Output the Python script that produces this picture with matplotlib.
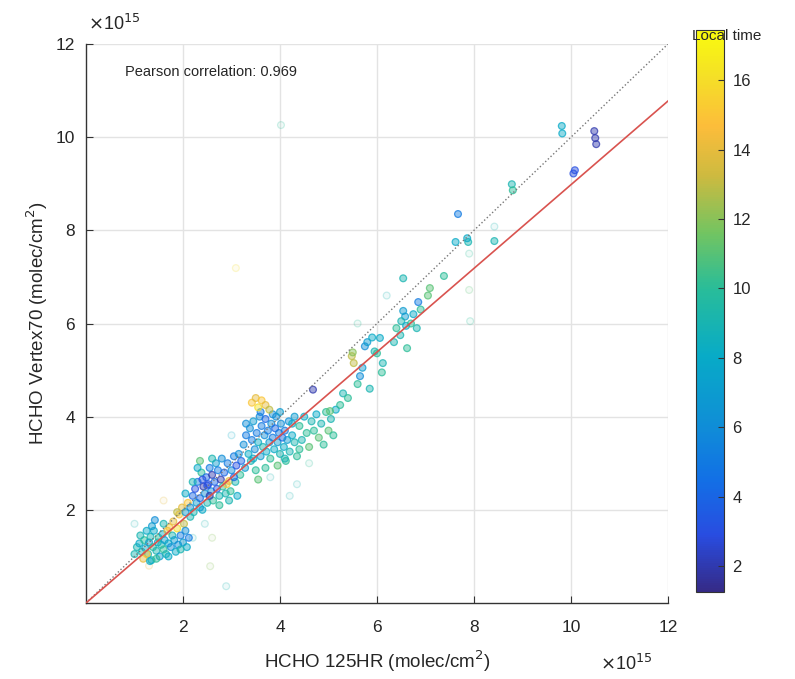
import matplotlib
matplotlib.use("Agg")
import matplotlib.pyplot as plt
import numpy as np
from matplotlib.colors import LinearSegmentedColormap, Normalize

plt.rcParams['font.family'] = ['Liberation Sans', 'DejaVu Sans']

# HCHO columns in units of 1e15 molec/cm2, local time in hours
x_main = [1.05, 1.10, 1.15, 1.20, 1.22, 1.28, 1.30, 1.33, 1.35, 1.38, 1.40, 1.42, 1.45, 1.48, 1.50,
          1.52, 1.55, 1.58, 1.60, 1.62, 1.65, 1.68, 1.70, 1.72, 1.75, 1.78, 1.80, 1.82, 1.85, 1.88,
          1.90, 1.92, 1.95, 1.98, 2.00, 2.02, 2.05, 2.08, 2.10, 2.12, 2.15, 1.18, 1.25, 1.32,
          1.12, 1.25, 1.45, 1.60, 1.70, 1.95, 2.05, 1.88, 1.00, 1.36,
          2.15, 2.20, 2.22, 2.25, 2.28, 2.30, 2.35, 2.38, 2.40, 2.42, 2.45, 2.48, 2.50, 2.52, 2.55,
          2.58, 2.60, 2.62, 2.65, 2.68, 2.70, 2.72, 2.75, 2.78, 2.80, 2.82, 2.85, 2.88, 2.90, 2.95,
          2.92, 2.98, 3.00, 3.05, 3.08, 3.10, 3.12, 3.15, 3.18, 3.20, 2.05, 2.35, 2.50,
          2.30, 2.60, 2.75, 2.95, 3.05, 2.40, 2.55, 2.20, 2.35,
          3.25, 3.28, 3.30, 3.35, 3.38, 3.40, 3.42, 3.45, 3.48, 3.50, 3.52, 3.55, 3.58, 3.60, 3.62,
          3.65, 3.68, 3.70, 3.72, 3.75, 3.78, 3.80, 3.82, 3.85, 3.88, 3.90, 3.92, 3.95, 3.98, 4.00,
          4.02, 4.05, 4.08, 4.10, 4.12, 4.15, 4.18, 4.20, 4.25, 4.30, 4.35, 3.55, 3.70,
          3.30, 3.45, 3.60, 3.85, 4.00, 4.10, 4.25, 4.40, 3.95, 4.30,
          3.42, 3.50, 3.55, 3.62, 3.70, 3.78,
          4.40, 4.45, 4.50, 4.55, 4.60, 4.65, 4.70, 4.75, 4.80, 4.85, 4.90, 4.95, 5.00, 5.05, 5.10,
          5.15, 4.68,
          5.24, 5.03, 5.30, 5.40, 5.48, 5.50, 5.52, 5.65, 5.70, 5.75, 5.80, 5.95, 6.00, 6.06, 6.12,
          5.85, 5.60, 6.10, 5.90,
          6.54, 6.54, 6.58, 6.62, 6.48, 6.50, 6.40, 6.60, 6.85, 6.82, 6.70, 6.75, 6.90, 7.05, 7.09,
          7.38, 6.35,
          7.62, 7.88, 7.86, 7.67, 8.42, 8.78, 8.80, 9.81, 9.82, 10.08, 10.05, 10.48, 10.50, 10.52]
y_main = [1.20, 1.28, 1.10, 1.35, 1.18, 1.05, 1.30, 1.42, 0.92, 1.20, 1.55, 1.78, 1.12, 1.30, 1.40,
          1.00, 1.25, 1.48, 1.15, 1.35, 1.05, 1.55, 1.28, 1.62, 1.20, 1.45, 1.75, 1.35, 1.10, 1.60,
          1.25, 1.90, 1.45, 2.05, 1.30, 1.70, 1.55, 1.20, 2.15, 1.40, 1.85, 0.95, 1.05, 0.90,
          1.45, 1.55, 0.95, 1.70, 1.00, 1.15, 1.95, 1.95, 1.05, 1.65,
          2.05, 2.30, 1.95, 2.45, 2.15, 2.60, 2.25, 2.80, 2.00, 2.50, 2.35, 2.70, 2.15, 2.55, 2.90,
          2.40, 2.75, 2.20, 2.60, 3.00, 2.45, 2.85, 2.30, 2.65, 3.10, 2.50, 2.80, 2.35, 2.55, 2.62,
          3.00, 2.40, 2.85, 3.15, 2.60, 2.95, 2.30, 3.20, 2.75, 3.05, 2.35, 3.05, 2.52,
          2.90, 3.10, 2.10, 2.20, 2.70, 2.65, 2.30, 2.60, 2.05,
          3.40, 2.90, 3.60, 3.20, 3.75, 3.05, 3.50, 3.90, 3.30, 2.85, 3.65, 3.45, 4.00, 3.15, 3.80,
          3.35, 3.60, 3.95, 3.25, 3.70, 3.45, 3.10, 3.85, 3.55, 3.30, 3.75, 4.00, 3.45, 3.65, 3.20,
          3.85, 3.55, 3.35, 3.70, 3.05, 3.50, 3.90, 3.25, 3.60, 3.45, 3.15, 2.65, 2.90,
          3.85, 3.10, 4.10, 4.05, 4.10, 3.10, 3.85, 3.30, 2.95, 4.00,
          4.30, 4.40, 4.20, 4.35, 4.25, 4.15,
          3.80, 3.50, 4.00, 3.65, 3.35, 3.90, 3.70, 4.05, 3.55, 3.85, 3.40, 4.10, 3.70, 3.95, 3.60,
          4.15, 4.58,
          4.25, 4.12, 4.50, 4.40, 5.30, 5.38, 5.15, 4.87, 5.05, 5.51, 5.60, 5.40, 5.36, 5.69, 5.15,
          4.60, 4.70, 4.95, 5.70,
          6.97, 6.27, 6.15, 5.47, 5.75, 6.05, 5.90, 5.95, 6.46, 5.90, 6.00, 6.20, 6.30, 6.60, 6.76,
          7.02, 5.60,
          7.75, 7.75, 7.83, 8.35, 7.77, 8.99, 8.86, 10.24, 10.08, 9.29, 9.22, 10.13, 9.98, 9.85]
t_main = [9, 8, 9, 10, 8, 9, 7, 9, 9, 10, 8, 6, 9, 8, 10,
          7, 9, 8, 10, 7, 9, 14, 8, 15, 6, 9, 14, 7, 8, 16,
          6, 15, 5, 14, 7, 13, 6, 8, 15, 5, 9, 14, 15, 8,
          9, 8, 10, 9, 8, 9, 7, 13, 9, 7,
          6, 4, 9, 3, 7, 5, 4, 10, 8, 2, 6, 4, 9, 3, 5,
          6, 2, 10, 4, 7, 3, 5, 9, 2, 6, 10, 4, 9, 15, 14,
          5, 10, 6, 5, 9, 3, 8, 6, 10, 4, 8, 11, 3,
          8, 9, 10, 9, 4, 3, 2, 9, 7,
          6, 7, 5, 8, 6, 9, 5, 7, 6, 10, 5, 8, 6, 7, 5,
          9, 6, 4, 8, 5, 7, 10, 6, 5, 8, 4, 6, 7, 5, 9,
          6, 4, 8, 5, 10, 7, 6, 9, 8, 9, 10, 11, 10,
          6, 8, 5, 6, 7, 9, 8, 10, 11, 7,
          15, 14, 16, 15, 14, 13,
          10, 9, 8, 10, 11, 9, 10, 8, 11, 9, 10, 10, 11, 9, 10,
          8, 2,
          10, 11, 9, 10, 13, 12, 13, 6, 7, 6, 7, 9, 10, 8, 9,
          9, 10, 10, 8,
          9, 7, 7, 10, 9, 9, 10, 8, 5, 9, 10, 8, 10, 11, 11,
          10, 9,
          8, 9, 8, 5, 9, 9, 10, 8, 8, 3, 3, 2, 2, 2]

# barely visible points
x_faint = [3.09, 4.02, 2.89, 2.56, 4.20, 7.90, 7.92, 7.90, 8.42, 2.60, 4.35,
           1.00, 1.60, 2.20, 3.00, 3.80, 4.60, 5.60, 6.20, 1.30, 2.45]
y_faint = [7.19, 10.26, 0.36, 0.79, 2.30, 6.72, 6.05, 7.50, 8.08, 1.40, 2.55,
           1.70, 2.20, 1.40, 3.60, 2.70, 3.00, 6.00, 6.60, 0.80, 1.70]
t_faint = [16, 10, 9, 12, 9, 11, 10, 10, 9, 12, 9,
           9, 14, 9, 8, 9, 10, 10, 9, 14, 9]

pearson_r = 0.969
fit_slope = 0.898

parula = LinearSegmentedColormap.from_list('parula', [
    (0.000, (0.208, 0.166, 0.529)),
    (0.100, (0.160, 0.300, 0.880)),
    (0.200, (0.070, 0.440, 0.900)),
    (0.300, (0.060, 0.560, 0.840)),
    (0.420, (0.030, 0.670, 0.780)),
    (0.540, (0.160, 0.740, 0.600)),
    (0.640, (0.450, 0.770, 0.380)),
    (0.740, (0.800, 0.730, 0.250)),
    (0.830, (0.990, 0.740, 0.230)),
    (0.920, (0.960, 0.880, 0.150)),
    (1.000, (0.976, 0.983, 0.054)),
])
norm = Normalize(vmin=1.25, vmax=17.45)

fig = plt.figure(figsize=(7.95, 6.79), dpi=100)
ax = fig.add_axes([86 / 795, 1 - 603 / 679, 582 / 795, 559 / 679])

txt = '#262626'

def draw(xs, ys, ts, fa, ea):
    cols = parula(norm(np.array(ts)))
    fc = cols.copy()
    fc[:, 3] = fa
    ec = cols.copy()
    ec[:, 3] = ea
    ax.scatter(xs, ys, s=24, facecolors=fc, edgecolors=ec, linewidths=0.9, zorder=3)

draw(x_faint, y_faint, t_faint, 0.07, 0.22)
draw(x_main, y_main, t_main, 0.45, 0.75)

line = np.array([0, 12])
ax.plot(line, line, ':', color='#777777', lw=1.0, zorder=4)
ax.plot(line, fit_slope * line, '-', color='#d9534f', lw=1.2, zorder=4)

ax.set_xlim(0, 12)
ax.set_ylim(0, 12)
ax.set_xticks([2, 4, 6, 8, 10, 12])
ax.set_yticks([2, 4, 6, 8, 10, 12])
ax.grid(True, color='#e3e3e3', lw=1.0, zorder=0)
ax.set_axisbelow(True)
for s in ['top', 'right']:
    ax.spines[s].set_visible(False)
for s in ['left', 'bottom']:
    ax.spines[s].set_color('#333333')
    ax.spines[s].set_linewidth(1.0)
ax.tick_params(direction='in', length=5, labelsize=12.5, colors='#333333', labelcolor=txt)
ax.tick_params(axis='x', pad=12)
ax.tick_params(axis='y', pad=8)

ax.set_xlabel('HCHO 125HR (molec/cm$^2$)', fontsize=13.5, color=txt, labelpad=10)
ax.set_ylabel('HCHO Vertex70 (molec/cm$^2$)', fontsize=13.5, color=txt, labelpad=4)

fig.text(88 / 795, 1 - 30 / 679, r'$\times$10$^{15}$', fontsize=13, color=txt, va='baseline')
fig.text(600 / 795, 1 - 670 / 679, r'$\times$10$^{15}$', fontsize=13, color=txt, va='baseline')

ax.text(0.8, 11.4, f'Pearson correlation: {pearson_r}', fontsize=10.5, color=txt, va='center')

cax = fig.add_axes([696 / 795, 1 - 592 / 679, 28 / 795, 562 / 679])
sm = plt.cm.ScalarMappable(norm=norm, cmap=parula)
cb = fig.colorbar(sm, cax=cax)
cb.set_ticks([2, 4, 6, 8, 10, 12, 14, 16])
cb.ax.tick_params(direction='in', length=4, labelsize=12, colors='#333333', labelcolor=txt, pad=6)
cb.outline.set_edgecolor('#333333')
fig.text(727 / 795, 1 - 36 / 679, 'Local time', fontsize=11, color=txt, ha='center', va='center')

fig.savefig('out.png', dpi=100)
